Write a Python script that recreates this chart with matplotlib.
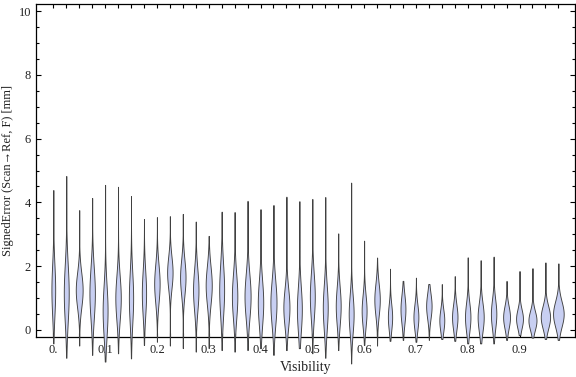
"""Violin chart: signed error vs visibility bins."""
import numpy as np
import matplotlib
matplotlib.use("Agg")
import matplotlib.pyplot as plt

# one violin per visibility bin (bin width 0.025)
vis = [i * 0.025 for i in range(40)]
lo = [-0.42, -0.87, -0.49, -0.78, -0.99, -0.73, -0.89, -0.47, -0.37, -0.49,
      -0.57, -0.68, -0.57, -0.63, -0.68, -0.63, -0.57, -0.78, -0.63, -0.57,
      -0.73, -0.87, -0.63, -1.05, -0.47, -0.49, -0.34, -0.31, -0.37, -0.31,
      -0.28, -0.34, -0.42, -0.42, -0.42, -0.31, -0.16, -0.24, -0.28, -0.31]
hi = [4.39, 4.83, 3.76, 4.14, 4.55, 4.49, 4.20, 3.48, 3.54, 3.57,
      3.64, 3.40, 2.95, 3.71, 3.70, 4.05, 3.79, 3.92, 4.18, 4.04,
      4.11, 4.17, 3.03, 4.62, 2.80, 2.27, 1.92, 1.54, 1.64, 1.44,
      1.44, 1.69, 2.28, 2.19, 2.30, 1.54, 1.85, 1.94, 2.12, 2.09]
mode = [1.25, 1.15, 1.25, 1.15, 0.6, 1.0, 1.0, 1.15, 1.45, 1.8,
        1.65, 1.25, 1.4, 1.25, 1.05, 1.05, 0.85, 0.85, 0.7, 0.65,
        1.05, 0.7, 0.75, 0.5, 0.6, 0.95, 0.4, 0.65, 0.4, 0.75,
        0.3, 0.4, 0.4, 0.4, 0.5, 0.4, 0.35, 0.3, 0.4, 0.5]
# peak density (relative) and spread of each bin
dens = [0.29, 0.38, 0.53, 0.42, 0.38, 0.42, 0.33, 0.33, 0.42, 0.42,
        0.42, 0.42, 0.47, 0.38, 0.42, 0.47, 0.42, 0.47, 0.47, 0.38,
        0.38, 0.38, 0.38, 0.38, 0.38, 0.42, 0.33, 0.38, 0.38, 0.42,
        0.38, 0.42, 0.42, 0.47, 0.42, 0.53, 0.53, 0.62, 0.72, 0.82]
spread = [0.8, 0.9, 0.55, 0.8, 0.8, 0.7, 0.8, 0.7, 0.6, 0.5,
          0.55, 0.65, 0.6, 0.8, 0.7, 0.7, 0.7, 0.7, 0.6, 0.7,
          0.7, 0.7, 0.6, 0.6, 0.5, 0.5, 0.4, 0.45, 0.4, 0.4,
          0.35, 0.4, 0.45, 0.45, 0.45, 0.35, 0.3, 0.3, 0.35, 0.4]
xticks = [0.0, 0.1, 0.2, 0.3, 0.4, 0.5, 0.6, 0.7, 0.8, 0.9]
xlabels = ["0.", "0.1", "0.2", "0.3", "0.4", "0.5", "0.6", "0.7", "0.8", "0.9"]

plt.rcParams["font.family"] = ["Liberation Serif", "DejaVu Serif"]
FILL = "#c8cff2"
EDGE = "#404040"
TXT = "#222222"

fig = plt.figure(figsize=(5.76, 3.77), dpi=100)
ax = fig.add_axes([36 / 576, 40 / 377, 539 / 576, 333 / 377])

slot = 0.025
for x, a, b, m, d, s in zip(vis, lo, hi, mode, dens, spread):
    y = np.linspace(a, b, 300)
    w = d * slot / 2 * np.exp(-0.5 * ((y - m) / s) ** 2)
    ax.fill_betweenx(y, x - w, x + w, facecolor=FILL, edgecolor=EDGE,
                     lw=0.65, clip_on=False, zorder=3)

ax.set_xlim(-0.0334, 1.0071)
ax.set_ylim(-0.22, 10.22)
ax.set_xticks(vis, minor=True)
ax.set_xticks(xticks)
ax.set_xticklabels(xlabels)
ax.set_yticks([0, 2, 4, 6, 8, 10])
ax.set_yticks(np.arange(0, 10.01, 0.5), minor=True)
ax.tick_params(which="both", direction="in", top=True, right=True,
               colors="black", labelcolor=TXT, labelsize=9, width=0.8)
ax.tick_params(which="major", length=3.5)
ax.tick_params(which="minor", length=2.2)
ax.tick_params(axis="x", which="minor", length=3)
ax.tick_params(axis="x", which="major", length=3, pad=5)
for sp in ax.spines.values():
    sp.set_linewidth(0.9)

ax.set_xlabel("Visibility", fontsize=10, color=TXT, labelpad=4)
ax.set_ylabel("SignedError (Scan\u2192Ref, F) [mm]", fontsize=9, color=TXT,
              va="center")
ax.yaxis.set_label_coords(-0.052, 0.5)

fig.savefig("out.png", dpi=100)
